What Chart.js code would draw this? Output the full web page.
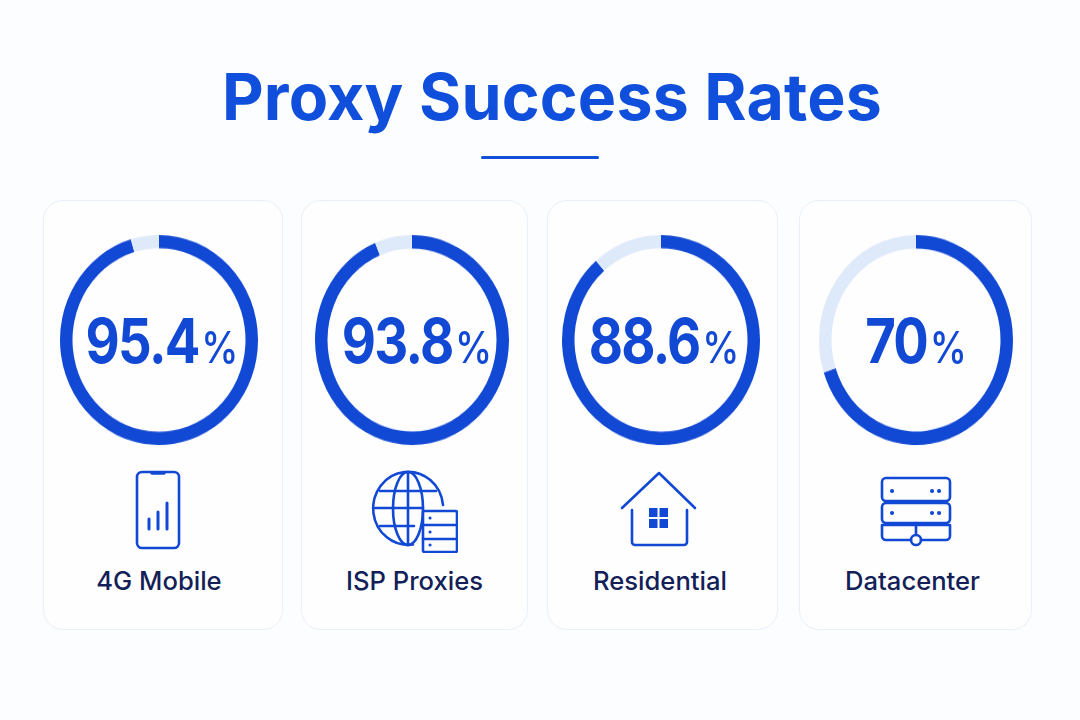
<!DOCTYPE html>
<html lang="en">
<head>
    <meta charset="UTF-8">
    <title>Proxy Success Rates</title>
    <script src="https://cdn.jsdelivr.net/npm/chart.js"></script>
    <style>
        html, body { margin: 0; padding: 0; }
        body { width: 1080px; height: 720px; background: #fcfdfe; font-family: Inter, sans-serif; position: relative; overflow: hidden; }
        h1 { position: absolute; left: 12px; width: 1080px; top: 57px; margin: 0; text-align: center; font-size: 64.4px; line-height: 80px; font-weight: 700; color: #0f4fdc; letter-spacing: 0.2px; }
        .rule { position: absolute; left: 481px; top: 156px; width: 118px; height: 3px; border-radius: 2px; background: #1350d8; }
        .card { position: absolute; top: 200px; height: 430px; box-sizing: border-box; background: #fefeff; border: 1px solid #e9f0f9; border-radius: 20px; }
        #card0 { left: 43px; width: 240px; }
        #card1 { left: 301px; width: 227px; }
        #card2 { left: 547px; width: 231px; }
        #card3 { left: 799px; width: 233px; }
        .ring { position: absolute; top: 19px; width: 220px; height: 240px; }
        .ring canvas { display: block; }
        .value { position: absolute; left: 0; right: 0; top: 1px; height: 240px; line-height: 240px; text-align: center; white-space: nowrap; font-size: 62px; font-weight: 700; letter-spacing: -2px; color: #1148d4; transform: scaleX(0.85); }
        #value0 { left: 3px; right: -3px; }
        #value1 { left: 5px; right: -5px; }
        #value2 { left: 3px; right: -3px; }
        .value span { font-size: 44px; font-weight: 500; letter-spacing: 0; margin-left: 3px; }
        .icon { position: absolute; top: 268px; width: 90px; height: 84px; fill: none; stroke: #1148d4; stroke-width: 2.6; stroke-linecap: round; stroke-linejoin: round; }
        .name { position: absolute; left: 0; right: 0; top: 365px; text-align: center; font-size: 25.6px; line-height: 30px; font-weight: 500; color: #141f58; }
    </style>
</head>
<body>
    <h1>Proxy Success Rates</h1>
    <div class="rule"></div>

    <div class="card" id="card0">
        <div class="ring" style="left:5px"><canvas id="ring0" width="220" height="240"></canvas><div class="value" id="value0"></div></div>
        <svg class="icon" style="left:70px" viewBox="0 0 90 84">
            <rect x="23" y="3" width="42" height="76" rx="5"/>
            <path d="M38 4h12" stroke-width="3.5"/>
            <path d="M35 50v10M44 43v17M53 34v26" stroke-width="3"/>
        </svg>
        <div class="name" id="name0" style="left:-8px"></div>
    </div>

    <div class="card" id="card1">
        <div class="ring" style="left:0"><canvas id="ring1" width="220" height="240"></canvas><div class="value" id="value1"></div></div>
        <svg class="icon" style="left:66px" viewBox="0 0 90 84">
            <path d="M75 36A35 36.500 0 1 0 45 75.500"/>
            <ellipse cx="40" cy="39.500" rx="15" ry="36.500"/>
            <path d="M40 3v73M12 22h56M5 39h50M12 57h34"/>
            <rect x="55" y="42" width="34" height="41" rx="1.500" fill="#fefeff"/>
            <path d="M55 56h34M55 70h34"/>
            <path d="M62 49h.1M62 63h.1M62 76h.1" stroke-width="3"/>
        </svg>
        <div class="name" id="name1"></div>
    </div>

    <div class="card" id="card2">
        <div class="ring" style="left:3px"><canvas id="ring2" width="220" height="240"></canvas><div class="value" id="value2"></div></div>
        <svg class="icon" style="left:64px" viewBox="0 0 90 84">
            <path d="M10 39L47 4L83 39"/>
            <path d="M20 41v32a3 3 0 0 0 3 3h49a3 3 0 0 0 3-3v-32"/>
            <path d="M37 39h8.500v9h-8.500zM47.500 39h8.500v9h-8.500zM37 50h8.500v9h-8.500zM47.500 50h8.500v9h-8.500z" fill="#1148d4" stroke="none"/>
        </svg>
        <div class="name" id="name2" style="left:-5px"></div>
    </div>

    <div class="card" id="card3">
        <div class="ring" style="left:6px"><canvas id="ring3" width="220" height="240"></canvas><div class="value" id="value3"></div></div>
        <svg class="icon" style="left:71px" viewBox="0 0 90 84">
            <rect x="11" y="9" width="68" height="23" rx="4"/>
            <rect x="11" y="34" width="68" height="20" rx="4"/>
            <path d="M11 56v11a4 4 0 0 0 4 4h25M50 71h25a4 4 0 0 0 4-4V56h-68"/>
            <path d="M45 54v12"/>
            <circle cx="45" cy="71" r="5"/>
            <path d="M21 22h.1M61 22h.1M68 22h.1M21 44h.1M61 44h.1M68 44h.1" stroke-width="4"/>
        </svg>
        <div class="name" id="name3" style="left:-6px"></div>
    </div>

    <script>
        const categories = ['4G Mobile', 'ISP Proxies', 'Residential', 'Datacenter'];
        const successRates = [95.4, 93.8, 88.6, 70];

        const ringSizes = [99, 97, 99, 97];
        const ringHeight = 105; // rings are slightly taller than wide
        const ringWidth = 12.5;
        const ringColor = '#1148d4';
        const trackColor = '#deE9fa';

        categories.forEach((name, i) => {
            document.getElementById('name' + i).textContent = name;
            const value = document.getElementById('value' + i);
            value.textContent = successRates[i];
            const unit = document.createElement('span');
            unit.textContent = '%';
            value.appendChild(unit);

            const canvas = document.getElementById('ring' + i);
            canvas.style.transform = 'scaleY(' + (ringHeight / ringSizes[i]) + ')';

            new Chart(canvas, {
                type: 'doughnut',
                data: {
                    labels: [name, 'Remaining'],
                    datasets: [{
                        data: [successRates[i], 100 - successRates[i]],
                        backgroundColor: [ringColor, trackColor],
                        borderWidth: 0
                    }]
                },
                options: {
                    responsive: false,
                    animation: false,
                    radius: ringSizes[i],
                    // cutout given as a percent so it is taken from the ring's own radius
                    cutout: ((ringSizes[i] - ringWidth) / ringSizes[i] * 100) + '%',
                    plugins: { legend: { display: false }, tooltip: { enabled: false } }
                }
            });
        });
    </script>
</body>
</html>
